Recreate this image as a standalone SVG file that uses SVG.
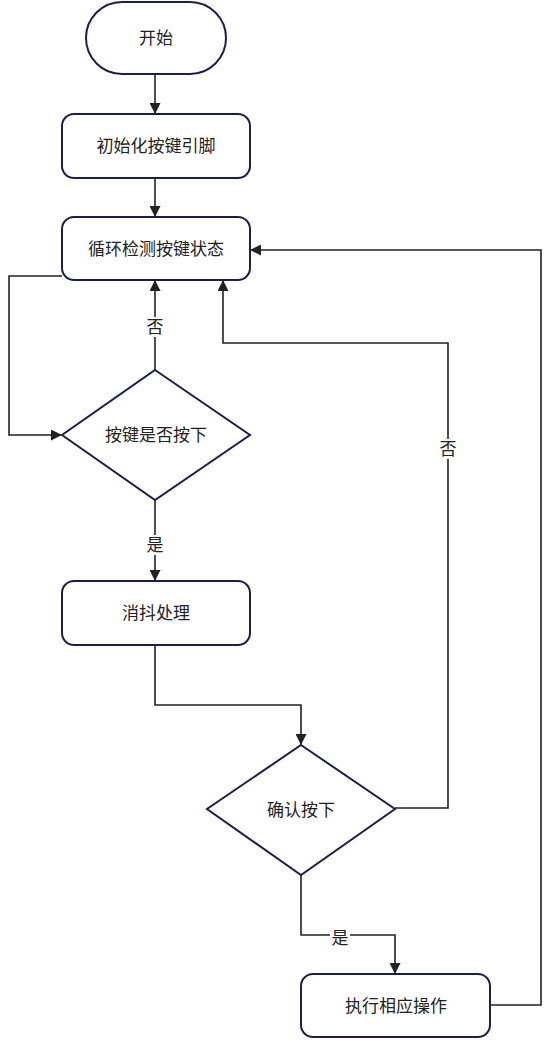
<svg xmlns="http://www.w3.org/2000/svg" width="552" height="1040" viewBox="0 0 552 1040">
<style>
.n{fill:#fff;stroke:#1b1f4b;stroke-width:2}
.t{font-family:"Liberation Sans","Noto Sans CJK SC",sans-serif;font-size:17px;fill:#222;text-anchor:middle;dominant-baseline:central}
.c{fill:none;stroke:#222;stroke-width:1.6}
.lb{fill:#fff}
</style>
<defs>
<marker id="a" markerWidth="11" markerHeight="11" refX="10" refY="5.5" orient="auto" markerUnits="userSpaceOnUse">
<path d="M0,0 L11,5.5 L0,11 Z" fill="#222"/>
</marker>
</defs>
<g id="connectors">
<path class="c" d="M155,74 V113" marker-end="url(#a)"/>
<path class="c" d="M155,178 V216" marker-end="url(#a)"/>
<path class="c" d="M62,276 H9 V435 H61" marker-end="url(#a)"/>
<path class="c" d="M155,370 V281" marker-end="url(#a)"/>
<path class="c" d="M155,500 V580" marker-end="url(#a)"/>
<path class="c" d="M155,645 V705 H301 V744" marker-end="url(#a)"/>
<path class="c" d="M395,808 H448 V343 H223 V281" marker-end="url(#a)"/>
<path class="c" d="M301,875 V935 H395 V973" marker-end="url(#a)"/>
<path class="c" d="M490,1005 H541 V250 H251" marker-end="url(#a)"/>
<rect class="lb" x="145" y="317" width="20" height="20"/>
<text class="t" x="155" y="327">否</text>
<rect class="lb" x="145" y="535" width="20" height="20"/>
<text class="t" x="155" y="545">是</text>
<rect class="lb" x="438" y="439" width="20" height="20"/>
<text class="t" x="448" y="449">否</text>
<rect class="lb" x="330" y="928" width="20" height="20"/>
<text class="t" x="340" y="938">是</text>
</g>
<g id="start"><rect class="n" x="86" y="2" width="140" height="72" rx="36"/><text class="t" x="156" y="38">开始</text></g>
<g id="init"><rect class="n" x="62" y="114" width="188" height="64" rx="12"/><text class="t" x="156" y="146">初始化按键引脚</text></g>
<g id="loop"><rect class="n" x="62" y="217" width="188" height="63" rx="12"/><text class="t" x="156" y="249">循环检测按键状态</text></g>
<g id="check"><polygon class="n" points="155,370 250,435 155,500 62,435"/><text class="t" x="156" y="435">按键是否按下</text></g>
<g id="debounce"><rect class="n" x="62" y="581" width="188" height="64" rx="12"/><text class="t" x="156" y="613">消抖处理</text></g>
<g id="confirm"><polygon class="n" points="301,745 395,809 301,875 207,809"/><text class="t" x="301" y="810">确认按下</text></g>
<g id="exec"><rect class="n" x="301" y="974" width="189" height="63" rx="12"/><text class="t" x="396" y="1006">执行相应操作</text></g>
</svg>
